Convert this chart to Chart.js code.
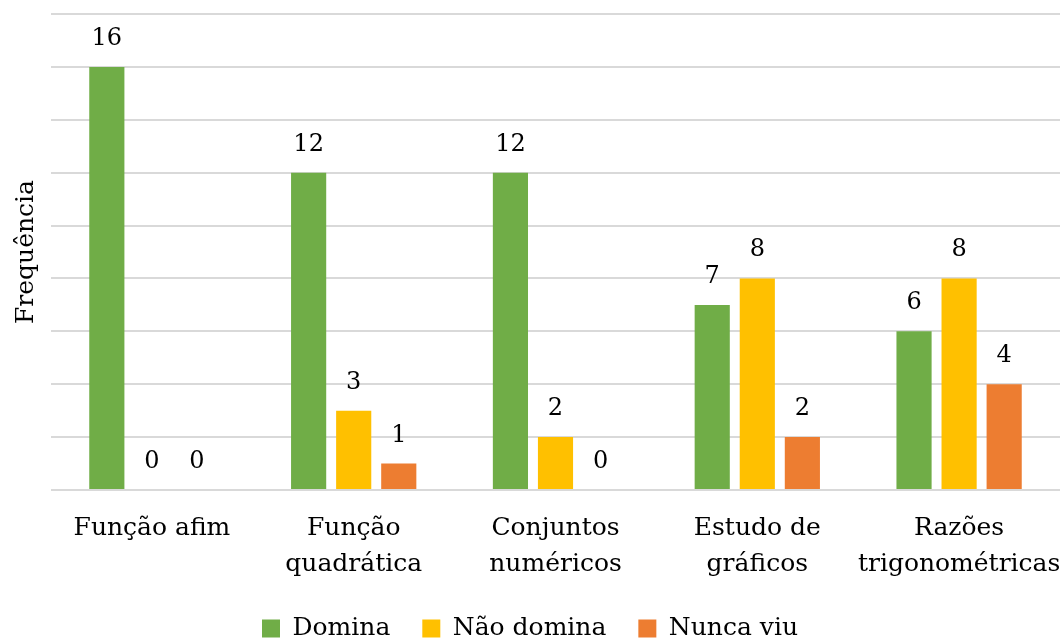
<!DOCTYPE html>
<html>
<head>
<meta charset="utf-8">
<script src="https://cdn.jsdelivr.net/npm/chart.js@4/dist/chart.umd.min.js"></script>
<style>
  html, body { margin: 0; padding: 0; background: #fff; }
  #wrap { width: 1062px; height: 640px; }
</style>
</head>
<body>
<div id="wrap"><canvas id="chart"></canvas></div>
<script>
// Topics and answer counts per category
const topics = [
    ['Função afim'],
    ['Função', 'quadrática'],
    ['Conjuntos', 'numéricos'],
    ['Estudo de', 'gráficos'],
    ['Razões', 'trigonométricas']
];
const domina = [16, 12, 12, 7, 6];
const naoDomina = [0, 3, 2, 8, 8];
const nuncaViu = [0, 1, 0, 2, 4];

const FONT = 'DejaVu Serif';

// Value printed above every bar (zeros included)
const valueLabels = {
    id: 'valueLabels',
    afterDatasetsDraw(chart) {
        const ctx = chart.ctx;
        ctx.save();
        ctx.font = '24px "' + FONT + '"';
        ctx.fillStyle = '#000';
        ctx.textAlign = 'center';
        ctx.textBaseline = 'alphabetic';
        chart.data.datasets.forEach((ds, i) => {
            chart.getDatasetMeta(i).data.forEach((bar, j) => {
                ctx.fillText(String(ds.data[j]), bar.x, bar.y - 22);
            });
        });
        ctx.restore();
    }
};

const ctx = document.getElementById('chart').getContext('2d');
new Chart(ctx, {
    type: 'bar',
    data: {
        labels: topics,
        datasets: [
            { label: 'Domina', data: domina, backgroundColor: '#70ad47' },
            { label: 'Não domina', data: naoDomina, backgroundColor: '#ffc000' },
            { label: 'Nunca viu', data: nuncaViu, backgroundColor: '#ed7d31' }
        ]
    },
    options: {
        responsive: true,
        maintainAspectRatio: false,
        animation: false,
        layout: { padding: { top: 14, right: 2, left: 0, bottom: 0 } },
        datasets: {
            bar: { categoryPercentage: 0.67, barPercentage: 0.78 }
        },
        plugins: {
            legend: {
                position: 'bottom',
                maxHeight: 56,
                labels: {
                    boxWidth: 18,
                    boxHeight: 18,
                    padding: 32,
                    color: '#000',
                    font: { family: FONT, size: 25 }
                }
            },
            tooltip: { enabled: false }
        },
        scales: {
            x: {
                grid: { display: false },
                border: { display: false },
                ticks: {
                    color: '#000',
                    padding: 12,
                    maxRotation: 0,
                    autoSkip: false,
                    font: { family: FONT, size: 25, lineHeight: 1.44 }
                },
                // long last label may spill a little past the plot edge
                afterFit(scale) {
                    scale.paddingLeft = 0;
                    scale.paddingRight = 0;
                    scale.height = 94;
                }
            },
            y: {
                min: 0,
                max: 18,
                border: { display: false },
                grid: { color: '#d9d9d9', lineWidth: 2, drawTicks: false },
                ticks: { display: false, stepSize: 2 },
                title: {
                    display: true,
                    text: 'Frequência',
                    color: '#000',
                    padding: { top: 11, bottom: 10 },
                    font: { family: FONT, size: 25 }
                }
            }
        }
    },
    plugins: [valueLabels]
});
</script>
</body>
</html>
